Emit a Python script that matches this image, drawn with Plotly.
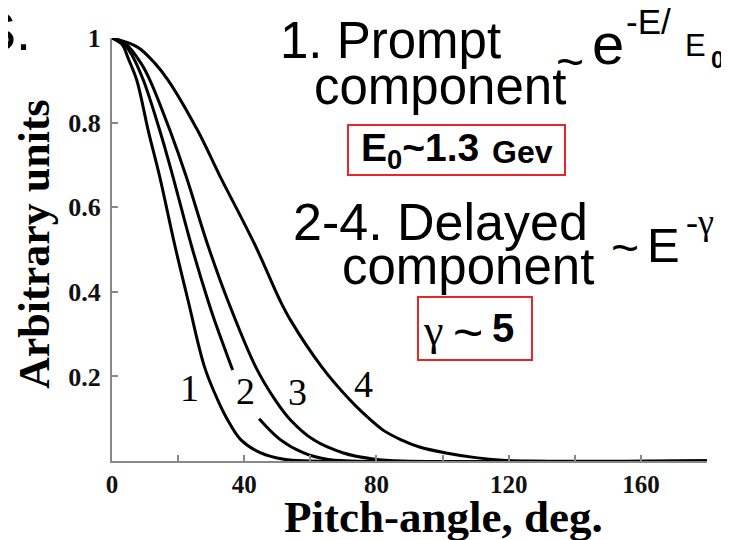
import plotly.graph_objects as go

# ---- data ----
angle_1 = [0, 3, 5, 7.5, 11, 14.5, 19, 23, 28, 32, 35, 39, 45, 52, 60, 180]
curve_1 = [1, 0.985, 0.95, 0.90, 0.78, 0.67, 0.51, 0.38, 0.222, 0.144, 0.097, 0.05, 0.019, 0.004, 0, 0]

angle_2 = [0, 3.5, 6, 9.5, 14.5, 18.3, 24, 29, 31, 36.5, 41, 44.5, 51, 58, 65, 72, 180]
curve_2 = [1, 0.987, 0.96, 0.90, 0.78, 0.676, 0.51, 0.38, 0.333, 0.215, None, 0.10, 0.05, 0.019, 0.004, 0, 0]

angle_3 = [0, 4, 8.8, 11.5, 17.6, 22.3, 29, 35, 43.5, 49.4, 54, 61, 70, 79, 88, 180]
curve_3 = [1, 0.987, 0.94, 0.90, 0.78, 0.676, 0.51, 0.38, 0.222, 0.144, 0.097, 0.05, 0.019, 0.005, 0, 0]

angle_4 = [0, 7.6, 13, 17, 26, 32.5, 43.3, 50.8, 54, 63.5, 72, 76, 82, 87.5, 93, 101, 110, 118, 127, 180]
curve_4 = [1, 0.979, 0.94, 0.90, 0.78, 0.676, 0.51, 0.38, 0.333, 0.222, 0.144, 0.113, 0.073, 0.05, 0.033, 0.019, 0.008, 0.002, 0, 0]

curve_names = ["1", "2", "3", "4"]
x_tick_vals = [0, 40, 80, 120, 160]
y_tick_vals = [0.2, 0.4, 0.6, 0.8, 1.0]
y_tick_text = ["0.2", "0.4", "0.6", "0.8", "1"]

# ---- figure geometry (page body adds an 8px offset) ----
OFF = 8
W, H = 729, 540
PX0, PX1 = 112, 707      # screen x of angle 0 and 180
PY0, PY1 = 461, 38       # screen y of value 0 and 1
L = PX0 - OFF
R = W - (PX1 - OFF)
T = PY1 - OFF
B = H - (PY0 - OFF)
PW, PH = PX1 - PX0, PY0 - PY1


def P(px, py):
    return (px - PX0) / PW, (PY0 - py) / PH


fig = go.Figure()
for xs, ys, nm in zip([angle_1, angle_2, angle_3, angle_4],
                      [curve_1, curve_2, curve_3, curve_4], curve_names):
    fig.add_trace(go.Scatter(x=xs, y=ys, name=nm, mode="lines",
                             line=dict(color="black", width=3, shape="spline", smoothing=1.0),
                             cliponaxis=False, showlegend=False))

serif = "Liberation Serif, Times New Roman, serif"
sans = "Liberation Sans, Arial, sans-serif"

fig.update_layout(
    width=W, height=H,
    margin=dict(l=L, r=R, t=T, b=B, pad=0, autoexpand=False),
    paper_bgcolor="white", plot_bgcolor="white",
    xaxis=dict(range=[0, 180], tickvals=x_tick_vals, ticks="inside", ticklen=6,
               tickcolor="#888", tickwidth=1.5, showline=True, linecolor="#888", linewidth=2,
               showgrid=False, zeroline=False, automargin=False,
               tickfont=dict(family=serif, size=25, color="#111", weight="bold"),
               minor=dict(dtick=20, tick0=0, ticks="inside", ticklen=6, tickcolor="#888", showgrid=False)),
    yaxis=dict(range=[0, 1], tickvals=y_tick_vals, ticktext=y_tick_text, ticks="inside", ticklen=6,
               tickcolor="#888", tickwidth=1.5, showline=True, linecolor="#888", linewidth=2,
               showgrid=False, zeroline=False, automargin=False, ticklabelstandoff=4,
               tickfont=dict(family=serif, size=26, color="#111", weight="bold")),
)

ann = []


def txt(text, px, py, size, family=sans, bold=False, xanchor="center", angle=0):
    x, y = P(px, py)
    ann.append(dict(text=text, x=x, y=y, xref="paper", yref="paper", xanchor=xanchor,
                    yanchor="middle", showarrow=False, textangle=angle,
                    font=dict(family=family, size=size, color="black",
                              weight="bold" if bold else "normal")))


# axis titles
txt("Arbitrary units", 34, 244, 44, serif, True, angle=-90)
txt("Pitch-angle, deg.", 443, 517, 45, serif, True)

# "S." fragment at the top-left
txt("S.", 33, 31, 54, sans, xanchor="right")

# curve labels (data coords)
for nm, lx, ly in zip(curve_names, [23.3, 40.5, 56, 76], [0.173, 0.165, 0.163, 0.182]):
    ann.append(dict(text=nm, x=lx, y=ly, xref="x", yref="y", showarrow=False,
                    font=dict(family=serif, size=38, color="black")))

# prompt component text
txt("1. Prompt", 390, 40, 51)
txt("component", 440, 86, 51)
txt("~", 570, 62, 48)
txt("e", 608, 43, 58)
txt("-E/", 648, 21, 35)
txt("E", 695, 45, 31)
txt("0", 717, 60, 24, bold=True)

# box 1
txt("E<sub>0</sub>~1.3", 420, 150, 39, bold=True)
txt("Gev", 522, 152, 32, bold=True)

# delayed component text
txt("2-4. Delayed", 440, 222, 52)
txt("component", 468, 266, 51)
txt("~", 625, 247, 48)
txt("E", 663, 245, 49)
txt("-γ", 700, 222, 36, serif)

# box 2
txt("γ", 433, 330, 44, serif)
txt("~", 468, 332, 52)
txt("5", 503, 328, 40, bold=True)

fig.update_layout(annotations=ann)

for (x0, y0, x1, y1) in [(348, 125, 565, 175), (418, 297, 532, 360)]:
    a0, b0 = P(x0, y1)
    a1, b1 = P(x1, y0)
    fig.add_shape(type="rect", xref="paper", yref="paper", x0=a0, y0=b0, x1=a1, y1=b1,
                  line=dict(color="#e8262a", width=2), fillcolor="rgba(0,0,0,0)")

fig.write_html("out.html")
